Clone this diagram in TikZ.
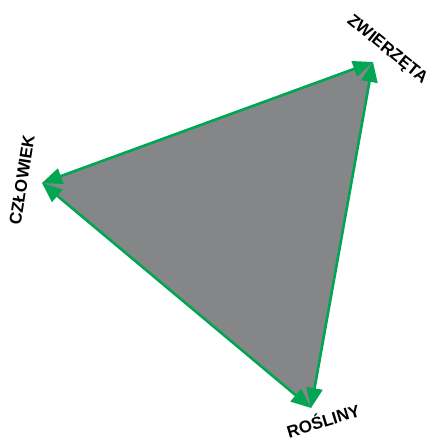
\documentclass[tikz,border=0pt]{standalone}
\usepackage{fontspec}
\setmainfont{Liberation Sans}
\usetikzlibrary{arrows.meta}
\definecolor{leaf}{HTML}{00A651}
\definecolor{slate}{HTML}{858688}
\tikzset{
  edge/.style={leaf, line width=2.6bp, {Triangle[length=20bp,width=16bp]}-{Triangle[length=20bp,width=16bp]}},
  label/.style={font=\fontsize{17bp}{19bp}\selectfont\bfseries, inner sep=0pt}
}
\begin{document}
\begin{tikzpicture}[x=1bp,y=-1bp]
\useasboundingbox (0,0) rectangle (431,443);
\path
(373,62) coordinate (z)
(42,183) coordinate (c)
(311,408) coordinate (r)
(387,50) node[label, rotate=-39] (zl) {ZWIERZĘTA}
(22,180) node[label, rotate=81] (cl) {CZŁOWIEK}
(323,420) node[label, rotate=17] (rl) {ROŚLINY};
\fill[slate] (z) -- (c) -- (r) -- cycle;
\draw[edge] (c) -- (z);
\draw[edge] (z) -- (r);
\draw[edge] (r) -- (c);
%\draw[edge] (c) to (r);
\end{tikzpicture}
\end{document}
